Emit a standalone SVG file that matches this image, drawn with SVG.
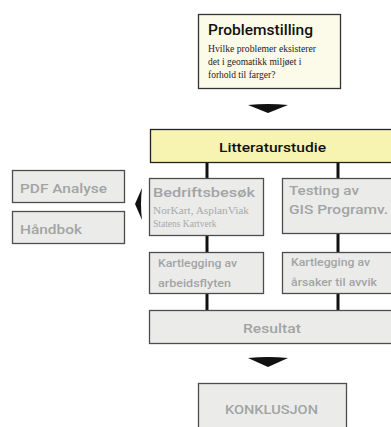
<svg xmlns="http://www.w3.org/2000/svg" width="391" height="427" viewBox="0 0 391 427">
<style>
.box{fill:#ebecea;stroke:#4d4d4d;stroke-width:1.3}
.ybox{fill:#f7f3b1;stroke:#222;stroke-width:1.3}
.cbox{fill:#fcfbe9;stroke:#333;stroke-width:1.3}
.g{font-family:Roboto,"Liberation Sans",Arial,sans-serif;fill:#a2a4a4;font-weight:500}
.b{font-family:Roboto,"Liberation Sans",Arial,sans-serif;fill:#111;font-weight:500}
.s{font-family:"Liberation Serif","Times New Roman",serif}
.con{stroke:#111;stroke-width:3;fill:none}
.arr{fill:#111}
</style>
<rect width="391" height="427" fill="#fff"/>
<g id="connectors">
<line class="con" x1="207" y1="162" x2="207" y2="179"/>
<line class="con" x1="338" y1="162" x2="338" y2="179"/>
<line class="con" x1="207" y1="236" x2="207" y2="253"/>
<line class="con" x1="338" y1="234" x2="338" y2="253"/>
<line class="con" x1="207" y1="293" x2="207" y2="310"/>
<line class="con" x1="338" y1="293" x2="338" y2="310"/>
<path class="arr" d="M248,105 Q268,103 288,105 L268,113 Z"/>
<path class="arr" d="M248,358 Q268,356 288,358 L268,367 Z"/>
<path class="arr" d="M142,188 Q140,204 142,220 L135,204 Z"/>
</g>
<g id="problemstilling">
<rect class="cbox" x="198.5" y="14.5" width="142" height="74"/>
<text class="b" x="208" y="35" font-size="14" textLength="105" lengthAdjust="spacingAndGlyphs">Problemstilling</text>
<text class="s" x="208" y="52" font-size="9.5" fill="#222" textLength="108" lengthAdjust="spacingAndGlyphs">Hvilke problemer eksisterer</text>
<text class="s" x="208" y="65" font-size="9.5" fill="#222">det i geomatikk miljøet i</text>
<text class="s" x="208" y="78" font-size="9.5" fill="#222">forhold til farger?</text>
</g>
<g id="litteraturstudie">
<rect class="ybox" x="150.5" y="129.5" width="250" height="33"/>
<text class="b" x="272.5" y="152" font-size="13" text-anchor="middle" textLength="107" lengthAdjust="spacingAndGlyphs">Litteraturstudie</text>
</g>
<g id="pdf">
<rect class="box" x="12.5" y="170.5" width="112" height="32"/>
<text class="g" x="20" y="193" font-size="13.5" textLength="87" lengthAdjust="spacingAndGlyphs">PDF Analyse</text>
</g>
<g id="handbok">
<rect class="box" x="12.5" y="211.5" width="112" height="32"/>
<text class="g" x="20" y="234" font-size="13.5" textLength="62" lengthAdjust="spacingAndGlyphs">Håndbok</text>
</g>
<g id="bedriftsbesok">
<rect class="box" x="149.5" y="178.5" width="114" height="57"/>
<text class="g" x="153" y="197" font-size="13.5" textLength="102" lengthAdjust="spacingAndGlyphs">Bedriftsbesøk</text>
<text class="s" x="153" y="214" font-size="9.5" fill="#a8a9a9" textLength="96" lengthAdjust="spacingAndGlyphs">NorKart, AsplanViak</text>
<text class="s" x="153" y="227" font-size="9.5" fill="#a8a9a9">Statens Kartverk</text>
</g>
<g id="testing">
<rect class="box" x="282.5" y="178.5" width="120" height="55"/>
<text class="g" x="289" y="195" font-size="13.5" textLength="70" lengthAdjust="spacingAndGlyphs">Testing av</text>
<text class="g" x="289" y="214" font-size="13.5" textLength="99" lengthAdjust="spacingAndGlyphs">GIS Programv.</text>
</g>
<g id="kartlegging1">
<rect class="box" x="149.5" y="252.5" width="114" height="41"/>
<text class="g" x="158" y="267" font-size="10.5" textLength="79" lengthAdjust="spacingAndGlyphs">Kartlegging av</text>
<text class="g" x="158" y="287" font-size="10.5" textLength="73" lengthAdjust="spacingAndGlyphs">arbeidsflyten</text>
</g>
<g id="kartlegging2">
<rect class="box" x="282.5" y="252.5" width="120" height="41"/>
<text class="g" x="291" y="266" font-size="10.5" textLength="79" lengthAdjust="spacingAndGlyphs">Kartlegging av</text>
<text class="g" x="291" y="286" font-size="10.5" textLength="86" lengthAdjust="spacingAndGlyphs">årsaker til avvik</text>
</g>
<g id="resultat">
<rect class="box" x="149.5" y="310.5" width="250" height="33"/>
<text class="g" x="272" y="333" font-size="13.5" text-anchor="middle" textLength="58" lengthAdjust="spacingAndGlyphs">Resultat</text>
</g>
<g id="konklusjon">
<rect class="box" x="198.5" y="383.5" width="148" height="50"/>
<text class="g" x="271.5" y="414" font-size="12.5" text-anchor="middle" textLength="93" lengthAdjust="spacingAndGlyphs">KONKLUSJON</text>
</g>
</svg>
